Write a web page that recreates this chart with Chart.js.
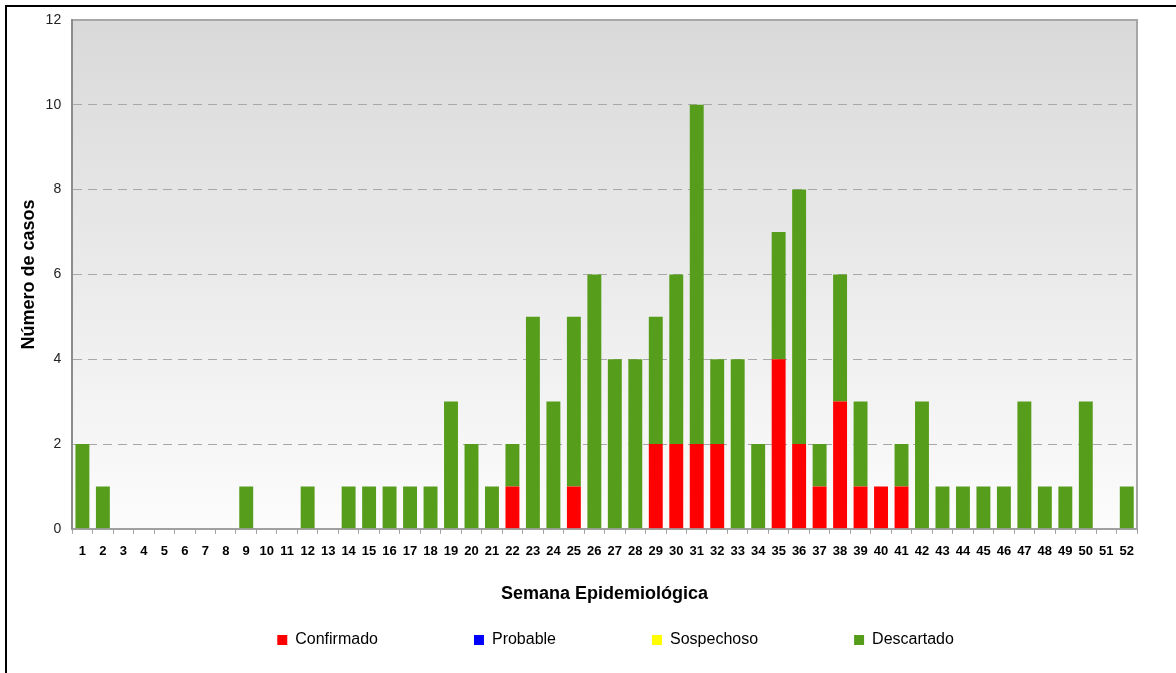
<!DOCTYPE html>
<html>
<head>
<meta charset="utf-8">
<script src="https://cdn.jsdelivr.net/npm/chart.js@4.4.0/dist/chart.umd.min.js"></script>
<style>
  body { margin: 0; background: #fff; }
  #wrap { position: relative; width: 1176px; height: 673px; }
  #frame { position: absolute; left: 5px; top: 5px; right: 0; bottom: 0; border-top: 2px solid #000; border-left: 2px solid #000; pointer-events: none; }
</style>
</head>
<body>
<div id="wrap">
  <canvas id="casosCanvas" width="1176" height="673"></canvas>
  <div id="frame"></div>
</div>
<script>
// Semanas epidemiológicas 1 a 52
const semanas = ['1','2','3','4','5','6','7','8','9','10','11','12','13','14','15','16','17','18','19','20',
  '21','22','23','24','25','26','27','28','29','30','31','32','33','34','35','36','37','38','39','40',
  '41','42','43','44','45','46','47','48','49','50','51','52'];

const confirmado = [0,0,0,0,0,0,0,0,0,0, 0,0,0,0,0,0,0,0,0,0, 0,1,0,0,1,0,0,0,2,2, 2,2,0,0,4,2,1,3,1,1, 1,0,0,0,0,0,0,0,0,0, 0,0];
const probable   = [0,0,0,0,0,0,0,0,0,0, 0,0,0,0,0,0,0,0,0,0, 0,0,0,0,0,0,0,0,0,0, 0,0,0,0,0,0,0,0,0,0, 0,0,0,0,0,0,0,0,0,0, 0,0];
const sospechoso = [0,0,0,0,0,0,0,0,0,0, 0,0,0,0,0,0,0,0,0,0, 0,0,0,0,0,0,0,0,0,0, 0,0,0,0,0,0,0,0,0,0, 0,0,0,0,0,0,0,0,0,0, 0,0];
const descartado = [2,1,0,0,0,0,0,0,1,0, 0,1,0,1,1,1,1,1,3,2, 1,1,5,3,4,6,4,4,3,4, 8,2,4,2,3,6,1,3,2,0, 1,3,1,1,1,1,3,1,1,3, 0,1];

const yTicks = { min: 0, max: 12, step: 2 };

Chart.defaults.font.family = '"Liberation Sans", Arial, sans-serif';
Chart.defaults.color = '#000';

// fondo degradado y marco gris del área de trazado
const plotBackground = {
  id: 'plotBackground',
  beforeDraw(chart) {
    const { ctx, chartArea: a } = chart;
    const g = ctx.createLinearGradient(0, a.top, 0, a.bottom);
    g.addColorStop(0, '#d9d9d9');
    g.addColorStop(1, '#fcfcfc');
    ctx.save();
    ctx.fillStyle = g;
    ctx.fillRect(a.left, a.top, a.right - a.left, a.bottom - a.top);
    ctx.strokeStyle = '#a6a6a6';
    ctx.lineWidth = 2;
    ctx.beginPath();
    ctx.moveTo(a.left, a.top);
    ctx.lineTo(a.right, a.top);
    ctx.lineTo(a.right, a.bottom);
    ctx.stroke();
    ctx.restore();
  }
};

// la leyenda usa un espaciado horizontal grande; se recoloca la fila
const legendPlacement = {
  id: 'legendPlacement',
  afterLayout(chart) {
    const lg = chart.legend;
    lg.top += 17 - lg.options.labels.padding;
    lg.left += 11;
    lg.right += 11;
  }
};

new Chart(document.getElementById('casosCanvas'), {
  type: 'bar',
  data: {
    labels: semanas,
    datasets: [
      { label: 'Confirmado', data: confirmado, backgroundColor: '#ff0000' },
      { label: 'Probable', data: probable, backgroundColor: '#0000ff' },
      { label: 'Sospechoso', data: sospechoso, backgroundColor: '#ffff00' },
      { label: 'Descartado', data: descartado, backgroundColor: '#579d1c' }
    ]
  },
  options: {
    responsive: false,
    animation: false,
    layout: { padding: { left: 12, right: 39, top: 20, bottom: 8 } },
    datasets: { bar: { categoryPercentage: 1, barPercentage: 0.68, borderWidth: 0 } },
    scales: {
      x: {
        stacked: true,
        grid: { drawOnChartArea: false, drawTicks: true, tickLength: 5, color: '#a0a0a0' },
        border: { color: '#a0a0a0', width: 2 },
        ticks: { autoSkip: false, maxRotation: 0, padding: 10, color: '#000', font: { size: 13, weight: 'bold' } },
        title: { display: true, text: 'Semana Epidemiológica', color: '#000',
                 font: { size: 18, weight: 'bold' }, padding: { top: 14, bottom: 10 } }
      },
      y: {
        stacked: true,
        min: yTicks.min,
        max: yTicks.max,
        grid: { drawTicks: false, color: '#a8a8a8', lineWidth: 1 },
        border: { color: '#8c8c8c', width: 2, dash: [9, 6] },
        ticks: { stepSize: yTicks.step, padding: 11, color: '#222', font: { size: 14 } },
        title: { display: true, text: 'Número de casos', color: '#000',
                 font: { size: 18, weight: 'bold' }, padding: { top: 6, bottom: -5 } }
      }
    },
    plugins: {
      tooltip: { enabled: false },
      legend: {
        position: 'bottom',
        fullSize: false,
        maxHeight: 50,
        labels: { boxWidth: 10, boxHeight: 10, padding: 96, color: '#000', font: { size: 16 } }
      }
    }
  },
  plugins: [plotBackground, legendPlacement]
});
</script>
</body>
</html>
